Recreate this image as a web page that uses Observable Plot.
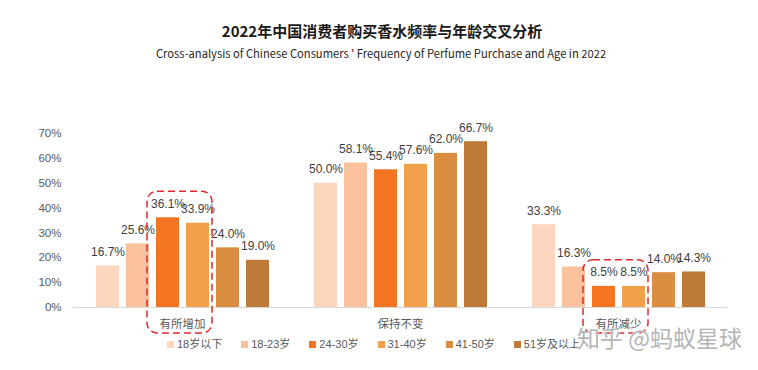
<!DOCTYPE html>
<html><head><meta charset="utf-8">
<script src="https://cdn.jsdelivr.net/npm/d3@7"></script>
<script src="https://cdn.jsdelivr.net/npm/@observablehq/plot@0.6"></script>
<style>
body{margin:0;background:#fff;}
#wrap{position:relative;width:758px;height:370px;overflow:hidden;font-family:"Liberation Sans","Noto Sans CJK SC",sans-serif;}
#title{position:absolute;left:3px;top:21px;width:758px;text-align:center;font:bold 15px/20px "Noto Sans CJK SC",sans-serif;color:#1a1a1a;}
#subtitle{position:absolute;left:2px;top:45px;width:758px;text-align:center;font:11.2px/16px "Noto Sans CJK SC",sans-serif;color:#262626;}
#chart{position:absolute;left:0;top:62px;}
#legend{position:absolute;left:4px;top:337px;width:758px;}
#legend .lg-swatches{min-height:0 !important;margin:0 !important;justify-content:center;font-family:"Liberation Sans","Noto Sans CJK SC",sans-serif !important;font-size:11px !important;color:#595959;line-height:14px;}
#legend .lg-swatch{margin-right:19px !important;}
#legend .lg-swatch > svg{margin-right:3px !important;}
#wm{position:absolute;left:577px;top:323px;font:23px/28px "Noto Sans CJK SC",sans-serif;color:#b4b4b4;text-shadow:0 0 1px #fff,0 0 1px #fff;white-space:nowrap;}
</style>
</head><body>
<div id="wrap">
  <div id="title"></div>
  <div id="subtitle"></div>
  <div id="chart"></div>
  <div id="legend"></div>
  <div id="wm"></div>
</div>
<script>
const titleText = "2022年中国消费者购买香水频率与年龄交叉分析";
const subtitleText = "Cross-analysis of Chinese Consumers ' Frequency of Perfume Purchase and Age in 2022";
const watermarkText = "知乎 @蚂蚁星球";
const groups = ["有所增加", "保持不变", "有所减少"];
const ages = ["18岁以下", "18-23岁", "24-30岁", "31-40岁", "41-50岁", "51岁及以上"];
const ageColors = ["#FCD6BE", "#F9C29C", "#F47521", "#F2A04B", "#D98E41", "#BE7A38"];
const increaseValues = [16.7, 25.6, 36.1, 33.9, 24.0, 19.0];
const unchangedValues = [50.0, 58.1, 55.4, 57.6, 62.0, 66.7];
const decreaseValues = [33.3, 16.3, 8.5, 8.5, 14.0, 14.3];
const yTicks = [0, 10, 20, 30, 40, 50, 60, 70];
const highlightGroups = ["有所增加", "有所减少"];
const highlightAges = ["24-30岁", "31-40岁"];

document.getElementById("title").textContent = titleText;
document.getElementById("subtitle").textContent = subtitleText;
document.getElementById("wm").textContent = watermarkText;

const seriesByGroup = [increaseValues, unchangedValues, decreaseValues];
const data = [];
groups.forEach((g, gi) => ages.forEach((a, ai) => data.push({group: g, age: a, value: seriesByGroup[gi][ai]})));

const plot = Plot.plot({
  width: 758,
  height: 275,
  marginTop: 71,
  marginBottom: 30,
  marginLeft: 72,
  marginRight: 31,
  style: {fontFamily: "'Liberation Sans','Noto Sans CJK SC',sans-serif", fontSize: "11.5px", color: "#595959", background: "transparent"},
  facet: {marginBottom: 0},
  fx: {domain: groups, padding: 0, axis: "bottom", label: null, tickSize: 0, tickPadding: 12},
  x: {domain: ages, paddingInner: 0.24, paddingOuter: 0.69, axis: null},
  y: {domain: [0, 70], ticks: yTicks, tickFormat: d => d + "%", tickSize: 0, tickPadding: 12, label: null},
  color: {domain: ages, range: ageColors},
  marks: [
    Plot.ruleY([0], {stroke: "#d9d9d9", strokeWidth: 1}),
    Plot.barY(data, {fx: "group", x: "age", y: "value", fill: "age", title: d => d.group + "|" + d.age}),
    Plot.text(data, {fx: "group", x: "age", y: "value", text: d => d.value.toFixed(1) + "%", dy: -14, fill: "#404040", fontSize: 12})
  ]
});
document.getElementById("chart").appendChild(plot);

const legend = plot.legend("color", {swatchSize: 7, className: "lg"});
document.getElementById("legend").appendChild(legend);

// dashed highlight boxes derived from rendered bars
const sb = plot.getBoundingClientRect();
const rectByKey = {};
plot.querySelectorAll('g[aria-label="bar"] rect').forEach(r => {
  const t = r.querySelector("title");
  if (t) rectByKey[t.textContent] = r.getBoundingClientRect();
});
const svgSel = d3.select(plot);
highlightGroups.forEach(g => {
  const bs = highlightAges.map(a => rectByKey[g + "|" + a]).filter(Boolean);
  if (!bs.length) return;
  const left = Math.min(...bs.map(b => b.left)) - sb.left - 9;
  const right = Math.max(...bs.map(b => b.right)) - sb.left + 3;
  const top = Math.min(...bs.map(b => b.top)) - sb.top - 26;
  const bottom = Math.max(...bs.map(b => b.bottom)) - sb.top + 26;
  svgSel.append("rect")
    .attr("x", left).attr("y", top)
    .attr("width", right - left).attr("height", bottom - top)
    .attr("rx", 10).attr("ry", 10)
    .attr("fill", "none").attr("stroke", "#E0282E")
    .attr("stroke-width", 1.5).attr("stroke-dasharray", "7,4");
});
</script>
</body></html>
